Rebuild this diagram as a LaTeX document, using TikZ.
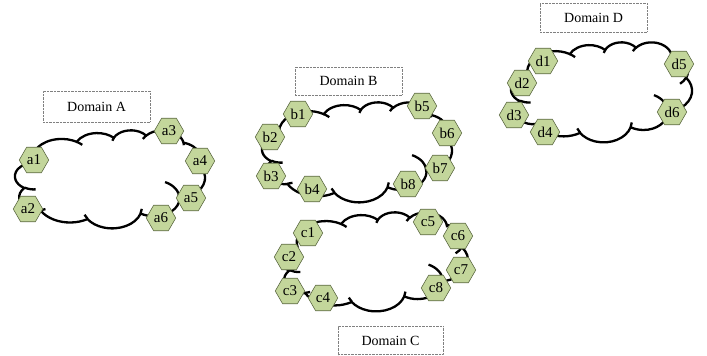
\documentclass[tikz,border=0pt]{standalone}
\usepackage{fontspec}
\setmainfont{Liberation Serif}
\usepackage{tikz}
\usetikzlibrary{shapes.geometric}

\definecolor{hexfill}{HTML}{C3D69B}
\definecolor{hexline}{HTML}{5E6B44}

\tikzset{
    cloudline/.style = {line width=2.3pt, black},
    hexnode/.style = {regular polygon, regular polygon sides=6, minimum size=29.5pt,
        inner sep=0pt, draw=hexline, fill=hexfill, line width=0.6pt,
        font=\fontsize{15}{17}\selectfont},
    domainbox/.style = {draw=gray, densely dotted, fill=white, minimum width=107pt,
        minimum height=29pt, font=\fontsize{14}{16}\selectfont},
    % cloud outline, drawn in a 43.2 x 43.2 box, y pointing down
    domaincloud/.pic = {
        \draw[cloudline] (3.9,14.37)
            arc[start angle=-187.75, end angle=-59.60, x radius=6.753, y radius=9.190]
            arc[start angle=-152.02, end angle=-45.48, x radius=5.333, y radius=7.267]
            arc[start angle=-153.48, end angle=-37.34, x radius=4.365, y radius=5.945]
            arc[start angle=-139.71, end angle=-10.21, x radius=4.857, y radius=6.595]
            arc[start angle=-74.76, end angle=23.21, x radius=5.333, y radius=7.273]
            arc[start angle=-37.54, end angle=81.87, x radius=6.775, y radius=9.220]
            arc[start angle=0.46, end angle=121.95, x radius=5.785, y radius=7.867]
            arc[start angle=16.84, end angle=146.24, x radius=6.752, y radius=9.215]
            arc[start angle=59.04, end angle=150.17, x radius=7.720, y radius=10.543]
            arc[start angle=83.30, end angle=223.09, x radius=4.360, y radius=5.918]
            arc[start angle=120.34, end angle=264.11, x radius=4.345, y radius=5.945]
            -- cycle;
        \draw[cloudline]
            (4.693,26.177) arc[start angle=85.54, end angle=120.34, x radius=4.345, y radius=5.945]
            (6.928,34.899) arc[start angle=68.24, end angle=83.30, x radius=4.360, y radius=5.918]
            (16.478,39.090) arc[start angle=146.24, end angle=158.48, x radius=6.752, y radius=9.215]
            (28.827,34.751) arc[start angle=4.74, end angle=16.84, x radius=6.752, y radius=9.215]
            (34.129,22.954) arc[start angle=-63.99, end angle=0.46, x radius=5.785, y radius=7.867]
            (41.798,15.354) arc[start angle=23.21, end angle=49.66, x radius=5.333, y radius=7.273]
            (38.324,5.426) arc[start angle=-10.21, end angle=0.82, x radius=4.857, y radius=6.595]
            (29.078,3.952) arc[start angle=-156.28, end angle=-139.71, x radius=4.857, y radius=6.595]
            (22.141,4.720) arc[start angle=-167.73, end angle=-153.48, x radius=4.365, y radius=5.945]
            (14.000,5.192) arc[start angle=-59.60, end angle=-45.73, x radius=6.753, y radius=9.190]
            (4.127,15.789) arc[start angle=163.19, end angle=172.26, x radius=6.753, y radius=9.190];
    }
}

\begin{document}
\begin{tikzpicture}[x=1pt, y=-1pt]
    \useasboundingbox (0,0) rectangle (707,356);

    % clouds
    \begin{scope}[shift={(15,130)}, x=4.398pt, y=-2.269pt]
        \pic {domaincloud};
    \end{scope}
    \begin{scope}[shift={(262,102)}, x=4.398pt, y=-2.315pt]
        \pic {domaincloud};
    \end{scope}
    \begin{scope}[shift={(280,212)}, x=4.352pt, y=-2.292pt]
        \pic {domaincloud};
    \end{scope}
    \begin{scope}[shift={(511,42)}, x=4.190pt, y=-2.315pt]
        \pic {domaincloud};
    \end{scope}

    % domain labels
    \node[domainbox, minimum height=31pt] (domA) at (96.5,106.5) {Domain A};
    \node[domainbox, minimum height=28pt] (domB) at (348.5,81) {Domain B};
    \node[domainbox, minimum width=105pt, minimum height=28pt] (domC) at (390.5,340.5) {Domain C};
    \node[domainbox] (domD) at (593.5,17.5) {Domain D};

    % domain A
    \node[hexnode] (a1) at (34,160) {a1};
    \node[hexnode] (a2) at (28,209) {a2};
    \node[hexnode] (a3) at (169,131) {a3};
    \node[hexnode] (a4) at (200,161) {a4};
    \node[hexnode] (a5) at (191,198) {a5};
    \node[hexnode] (a6) at (161,218) {a6};

    % domain B
    \node[hexnode] (b1) at (298,114) {b1};
    \node[hexnode] (b2) at (270,137) {b2};
    \node[hexnode] (b3) at (271,176) {b3};
    \node[hexnode] (b4) at (312,189) {b4};
    \node[hexnode] (b5) at (422,106) {b5};
    \node[hexnode] (b6) at (447,133) {b6};
    \node[hexnode] (b7) at (440,168) {b7};
    \node[hexnode] (b8) at (408,184) {b8};

    % domain C
    \node[hexnode] (c1) at (308,233) {c1};
    \node[hexnode] (c2) at (289,257) {c2};
    \node[hexnode] (c3) at (290,291) {c3};
    \node[hexnode] (c4) at (323,298) {c4};
    \node[hexnode] (c5) at (428,222) {c5};
    \node[hexnode] (c6) at (458,236) {c6};
    \node[hexnode] (c7) at (461,270) {c7};
    \node[hexnode] (c8) at (436,288) {c8};

    % domain D
    \node[hexnode] (d1) at (543,61) {d1};
    \node[hexnode] (d2) at (522,83) {d2};
    \node[hexnode] (d3) at (514,115) {d3};
    \node[hexnode] (d4) at (545,132) {d4};
    \node[hexnode] (d5) at (679,64) {d5};
    \node[hexnode] (d6) at (672,112) {d6};
\end{tikzpicture}
\end{document}
